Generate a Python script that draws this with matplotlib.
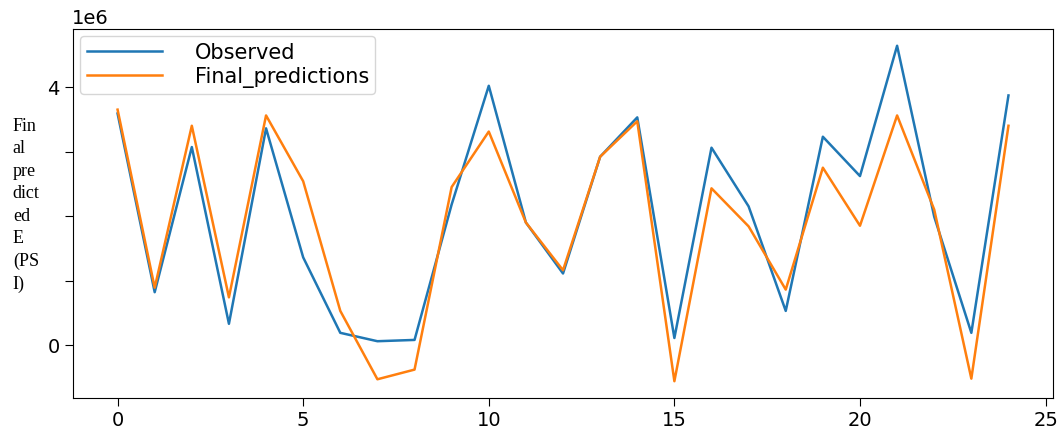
import numpy as np
import matplotlib.pyplot as plt

# values in units of 1e6
steps = list(range(25))
observed = [3.59, 0.82, 3.07, 0.33, 3.36, 1.36, 0.19, 0.06, 0.08, 2.18,
            4.02, 1.90, 1.11, 2.92, 3.53, 0.11, 3.06, 2.15, 0.53, 3.23,
            2.62, 4.64, 1.99, 0.19, 3.87]
final_predictions = [3.65, 0.89, 3.40, 0.74, 3.56, 2.54, 0.53, -0.53, -0.38, 2.45,
                     3.31, 1.90, 1.16, 2.92, 3.47, -0.56, 2.43, 1.84, 0.86, 2.75,
                     1.85, 3.56, 2.10, -0.52, 3.40]
ytick_values = [0, 1, 2, 3, 4]
ytick_labels = ["0", "", "", "", "4"]

observed = np.array(observed) * 1e6
final_predictions = np.array(final_predictions) * 1e6

fig = plt.figure(figsize=(10.63, 4.29), dpi=100)
ax = fig.add_axes([0.0687, 0.0723, 0.9219, 0.8601])

ax.plot(steps, observed, label="Observed", lw=1.8)
ax.plot(steps, final_predictions, label="Final_predictions", lw=1.8)

ax.set_xticks([0, 5, 10, 15, 20, 25])
ax.set_yticks(np.array(ytick_values) * 1e6)
ax.set_yticklabels(ytick_labels)
ax.tick_params(labelsize=14, length=6)
fig.text(0.068, 0.935, "1e6", fontsize=14, ha="left", va="bottom")
ax.legend(loc="upper left", fontsize=15, handlelength=3.6, handletextpad=1.6,
          borderpad=0.3, labelspacing=0.2, borderaxespad=0.35)

fig.text(0.012, 0.725, "Fin\nal\npre\ndict\ned\nE\n(PS\nI)",
         family="Liberation Serif", fontsize=13, linespacing=1.42,
         ha="left", va="top")

fig.savefig("out.png", dpi=100)
